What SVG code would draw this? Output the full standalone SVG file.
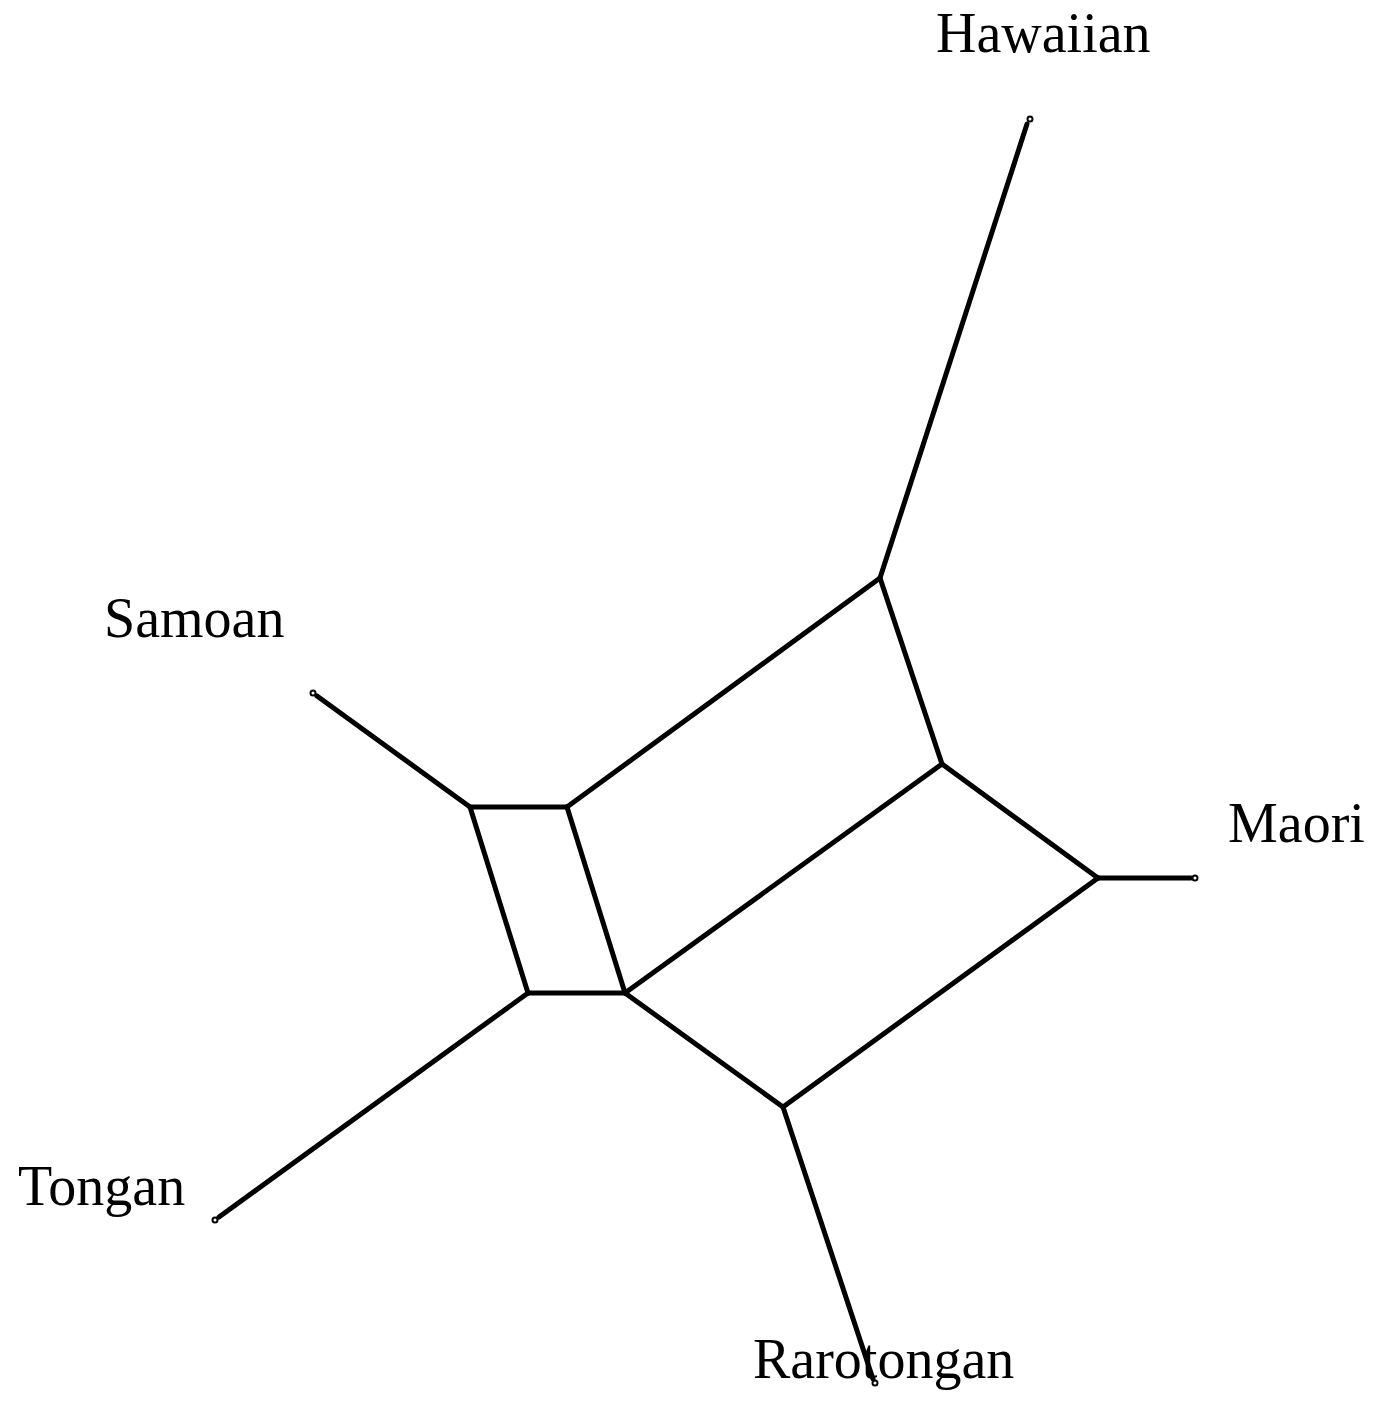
<svg xmlns="http://www.w3.org/2000/svg" width="1382" height="1406" viewBox="0 0 1382 1406">
<style>
.e{stroke:#000;stroke-width:5;fill:none;stroke-linecap:round;stroke-linejoin:round}
.leaf{fill:#fff;stroke:#000;stroke-width:2}
.lbl{font-family:"Liberation Serif","Times New Roman",serif;font-size:56px;fill:#000}
</style>
<rect width="1382" height="1406" fill="#fff"/>
<g id="connectors">
<line class="e" x1="880" y1="578" x2="1027" y2="124"/>
<line class="e" x1="470" y1="807" x2="317" y2="696"/>
<line class="e" x1="528" y1="993" x2="219" y2="1217"/>
<line class="e" x1="1098" y1="878" x2="1191" y2="878"/>
<line class="e" x1="783" y1="1107" x2="873" y2="1379"/>
<line class="e" x1="470" y1="807" x2="567" y2="807"/>
<line class="e" x1="528" y1="993" x2="625" y2="993"/>
<line class="e" x1="470" y1="807" x2="528" y2="993"/>
<line class="e" x1="567" y1="807" x2="625" y2="993"/>
<line class="e" x1="567" y1="807" x2="880" y2="578"/>
<line class="e" x1="880" y1="578" x2="942" y2="764"/>
<line class="e" x1="625" y1="993" x2="942" y2="764"/>
<line class="e" x1="942" y1="764" x2="1098" y2="878"/>
<line class="e" x1="625" y1="993" x2="783" y2="1107"/>
<line class="e" x1="783" y1="1107" x2="1098" y2="878"/>
</g>
<g id="hawaiian"><circle class="leaf" cx="1030" cy="119" r="2.5"/><text class="lbl" x="936" y="52">Hawaiian</text></g>
<g id="samoan"><circle class="leaf" cx="313" cy="693" r="2.5"/><text class="lbl" x="104" y="637">Samoan</text></g>
<g id="maori"><circle class="leaf" cx="1195" cy="878" r="2.5"/><text class="lbl" x="1228" y="842">Maori</text></g>
<g id="tongan"><circle class="leaf" cx="215" cy="1220" r="2.5"/><text class="lbl" x="18" y="1205">Tongan</text></g>
<g id="rarotongan"><circle class="leaf" cx="875" cy="1383" r="2.5"/><text class="lbl" x="753" y="1378">Rarotongan</text></g>
</svg>
